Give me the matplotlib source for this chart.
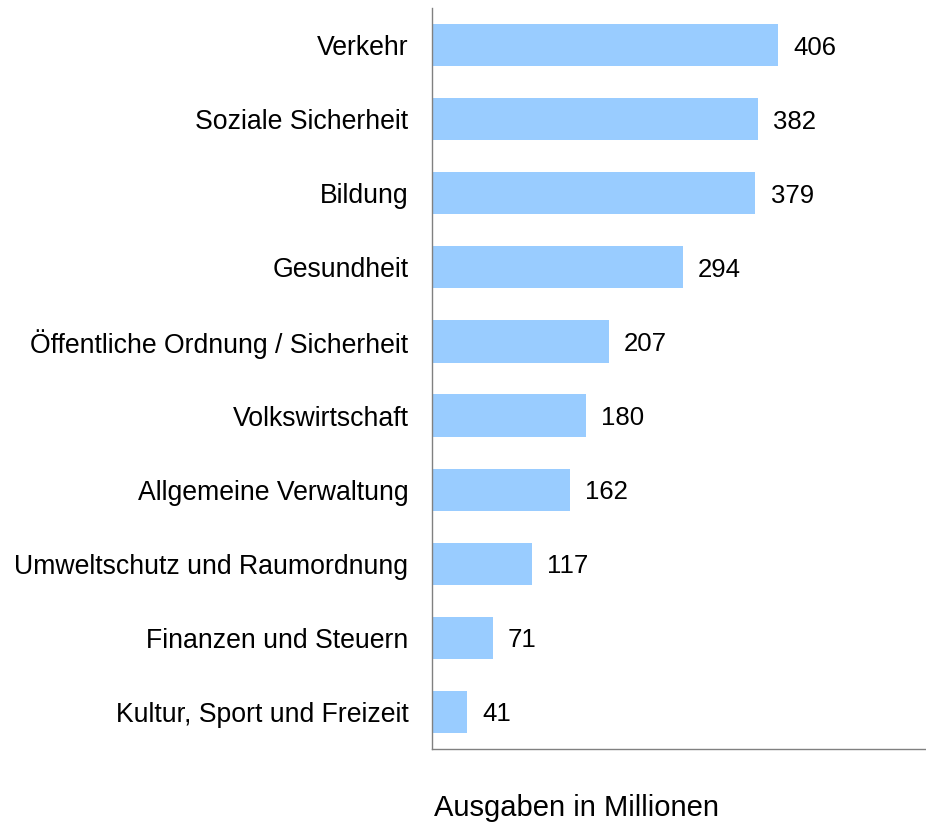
import matplotlib
matplotlib.use('Agg')
import matplotlib.pyplot as plt

categories = [
    "Verkehr",
    "Soziale Sicherheit",
    "Bildung",
    "Gesundheit",
    "Öffentliche Ordnung / Sicherheit",
    "Volkswirtschaft",
    "Allgemeine Verwaltung",
    "Umweltschutz und Raumordnung",
    "Finanzen und Steuern",
    "Kultur, Sport und Freizeit",
]
values = [406, 382, 379, 294, 207, 180, 162, 117, 71, 41]
x_label = "Ausgaben in Millionen"

plt.rcParams['font.family'] = ['Liberation Sans', 'DejaVu Sans']

fig = plt.figure(figsize=(9.26, 8.23), dpi=100)
ax = fig.add_axes([432 / 926, 1 - 749 / 823, 493 / 926, 741 / 823])

ypos = range(len(categories))
bars = ax.barh(ypos, values, height=0.57, color='#99CCFF')
labels = ax.bar_label(bars, labels=[str(v) for v in values], padding=11, fontsize=18.5)
for t in labels:
    t.set_va('center_baseline')

ax.set_xlim(0, 578)
ax.set_ylim(9.5, -0.5)
ax.set_yticks(list(ypos))
ax.set_yticklabels(categories, fontsize=19.2)
ax.tick_params(axis='y', length=0, pad=17)
ax.set_xticks([])

for side in ('top', 'right'):
    ax.spines[side].set_visible(False)
for side in ('left', 'bottom'):
    ax.spines[side].set_color('#808080')
    ax.spines[side].set_linewidth(1)

fig.text(576 / 926, 1 - 808 / 823, x_label, ha='center', va='center', fontsize=21)

fig.savefig("out.png", dpi=100)
